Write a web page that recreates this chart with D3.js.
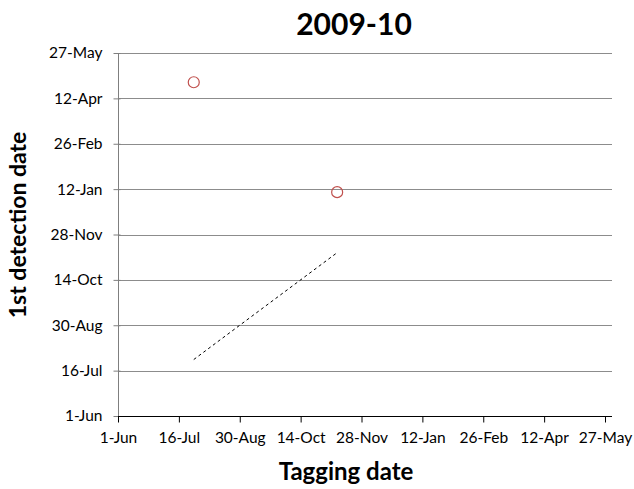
<!DOCTYPE html>
<html>
<head>
<meta charset="utf-8">
<script src="https://cdn.jsdelivr.net/npm/d3@7"></script>
<style>
  html, body { margin: 0; padding: 0; background: #fff; }
  svg { display: block; font-family: Lato, "Open Sans", sans-serif; }
</style>
</head>
<body>
<svg id="chart" width="634" height="489"></svg>
<script>
// Season shown
const seasonTitle = "2009-10";

// Fish tagged this season: tagging date and first detection date
const taggingDates   = ["2009-07-27", "2009-11-10"];
const detectionDates = ["2010-04-28", "2010-01-09"];

// Axis ticks (45-day spacing) and their labels
const tickDates  = ["2009-06-01", "2009-07-16", "2009-08-30", "2009-10-14", "2009-11-28",
                    "2010-01-12", "2010-02-26", "2010-04-12", "2010-05-27"];
const tickLabels = ["1-Jun", "16-Jul", "30-Aug", "14-Oct", "28-Nov",
                    "12-Jan", "26-Feb", "12-Apr", "27-May"];

const parse = d3.utcParse("%Y-%m-%d");
const ticks = tickDates.map(parse);
const points = taggingDates.map((t, i) => ({ tag: parse(t), det: parse(detectionDates[i]) }));

const svg = d3.select("#chart");
const plot = { left: 118, right: 605, top: 53, bottom: 416, edge: 612 };

const x = d3.scaleUtc().domain([ticks[0], ticks[ticks.length - 1]]).range([plot.left, plot.right]);
const y = d3.scaleUtc().domain([ticks[0], ticks[ticks.length - 1]]).range([plot.bottom, plot.top]);
const labelOf = d => tickLabels[ticks.findIndex(t => +t === +d)];

// Horizontal gridlines
svg.append("g")
  .selectAll("line")
  .data(ticks.slice(1))
  .join("line")
  .attr("x1", plot.left).attr("x2", plot.edge)
  .attr("y1", d => Math.round(y(d)) + 0.5).attr("y2", d => Math.round(y(d)) + 0.5)
  .attr("stroke", "#8c8c8c").attr("stroke-width", 1);

// Y axis
const yAxis = svg.append("g")
  .attr("transform", `translate(${plot.left + 0.5},0)`)
  .call(d3.axisLeft(y).tickValues(ticks).tickFormat(labelOf).tickSize(5).tickPadding(11));
yAxis.select(".domain").attr("stroke", "#7f7f7f").attr("d", `M0,${plot.top}V${plot.bottom}`);
yAxis.selectAll(".tick line").attr("stroke", "#7f7f7f").attr("x2", -5).attr("x1", 2);
yAxis.selectAll(".tick text").attr("font-size", 15.5).attr("fill", "#000")
  .attr("font-family", "Lato, sans-serif");

// X axis
const xAxis = svg.append("g")
  .attr("transform", `translate(0,${plot.bottom + 0.5})`)
  .call(d3.axisBottom(x).tickValues(ticks).tickFormat(labelOf).tickSize(6).tickPadding(9));
xAxis.select(".domain").attr("stroke", "#000").attr("d", `M${plot.left},0H${plot.edge}`);
xAxis.selectAll(".tick line").attr("stroke", "#000");
xAxis.selectAll(".tick text").attr("font-size", 15.5).attr("fill", "#000")
  .attr("font-family", "Lato, sans-serif");

// 1:1 reference line across the tagging-date span
const tagExtent = d3.extent(points, d => d.tag);
svg.append("line")
  .attr("x1", x(tagExtent[0])).attr("y1", y(tagExtent[0]))
  .attr("x2", x(tagExtent[1])).attr("y2", y(tagExtent[1]))
  .attr("stroke", "#000").attr("stroke-width", 1).attr("stroke-dasharray", "3,3");

// Detection points
svg.append("g")
  .selectAll("circle")
  .data(points)
  .join("circle")
  .attr("cx", d => x(d.tag)).attr("cy", d => y(d.det)).attr("r", 5.5)
  .attr("fill", "none").attr("stroke", "#c0504d").attr("stroke-width", 1.2);

// Titles
svg.append("text")
  .attr("x", 354).attr("y", 35).attr("text-anchor", "middle")
  .attr("font-size", 30).attr("font-weight", "bold").text(seasonTitle);

svg.append("text")
  .attr("x", 346).attr("y", 480).attr("text-anchor", "middle")
  .attr("font-size", 24).attr("font-weight", "bold").text("Tagging date");

svg.append("text")
  .attr("transform", "translate(26,225) rotate(-90)")
  .attr("text-anchor", "middle")
  .attr("font-size", 23).attr("font-weight", "bold").text("1st detection date");
</script>
</body>
</html>
